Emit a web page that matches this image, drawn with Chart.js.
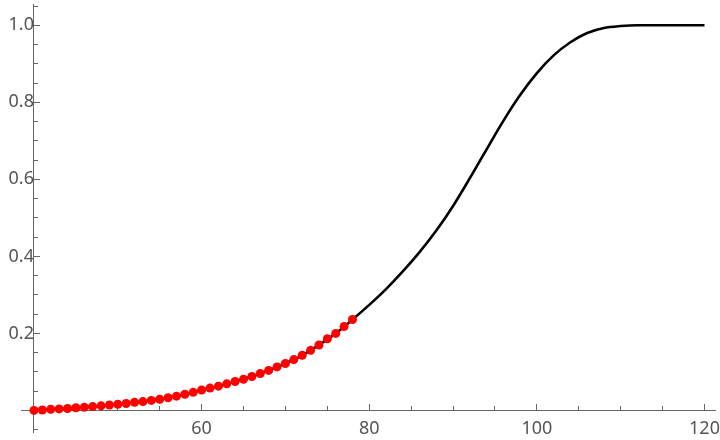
<!DOCTYPE html>
<html>
<head>
<meta charset="utf-8">
<script src="https://cdn.jsdelivr.net/npm/chart.js@4/dist/chart.umd.min.js"></script>
<style>
  html, body { margin: 0; padding: 0; background: #fff; }
  #wrap { width: 720px; height: 440px; position: relative; }
</style>
</head>
<body>
<div id="wrap"><canvas id="grafico"></canvas></div>
<script>
// pontos vermelhos (dados observados)
const pontosX = [40, 41, 42, 43, 44, 45, 46, 47, 48, 49, 50, 51, 52, 53, 54, 55, 56, 57, 58, 59,
  60, 61, 62, 63, 64, 65, 66, 67, 68, 69, 70, 71, 72, 73, 74, 75, 76, 77, 78];
const pontosY = [0.000, 0.001, 0.003, 0.004, 0.005, 0.007, 0.008, 0.010, 0.012, 0.014,
  0.016, 0.018, 0.021, 0.023, 0.026, 0.029, 0.033, 0.037, 0.042, 0.047,
  0.053, 0.058, 0.063, 0.069, 0.075, 0.081, 0.088, 0.096, 0.104, 0.113,
  0.122, 0.132, 0.143, 0.156, 0.170, 0.186, 0.200, 0.218, 0.236];

// curva preta
const curvaX = [40, 42, 44, 46, 48, 50, 52, 54, 56, 58, 60, 62, 64, 66, 68, 70, 72, 74, 76, 78,
  80, 82, 84, 86, 88, 90, 92, 94, 96, 98, 100, 102, 104, 106, 108, 110, 112, 114, 116, 118, 120];
const curvaY = [0.000, 0.003, 0.005, 0.008, 0.012, 0.016, 0.021, 0.026, 0.033, 0.042,
  0.053, 0.063, 0.075, 0.088, 0.104, 0.122, 0.143, 0.170, 0.200, 0.236,
  0.274, 0.315, 0.361, 0.411, 0.467, 0.531, 0.603, 0.678, 0.752, 0.819,
  0.876, 0.922, 0.956, 0.980, 0.993, 0.998, 1.000, 1.000, 1.000, 1.000, 1.000];

// ticks
const ticksXMaior = 20;
const ticksXMenor = 5;
const ticksYMaior = 0.2;
const ticksYMenor = 0.05;

const corEixo = '#666666';
const corTexto = '#555555';
const fonte = { family: 'Noto Sans', size: 18 };

const xMin = 38.45, xMax = 121.31;
const yMin = -0.056, yMax = 1.054;

// zera o espaço que a escala reserva, o eixo fica dentro da área
const semEspaco = (s, dir) => {
  s[dir] = 0;
  s.paddingLeft = 0;
  s.paddingRight = 0;
  s.paddingTop = 0;
  s.paddingBottom = 0;
};

const eixoX = (step, tl, mostrar) => ({
  type: 'linear',
  axis: 'x',
  position: { y: 0 },
  min: xMin,
  max: xMax,
  afterFit: (s) => semEspaco(s, 'height'),
  border: { display: mostrar, color: corEixo, width: 1 },
  grid: { drawOnChartArea: false, drawTicks: true, tickLength: tl, tickColor: corEixo, tickWidth: 1 },
  ticks: {
    display: mostrar,
    stepSize: step,
    includeBounds: false,
    autoSkip: false,
    maxRotation: 0,
    padding: 15,
    color: corTexto,
    font: fonte,
    callback: (v) => (v === 40 ? '' : String(v))
  }
});

const eixoY = (step, tl, mostrar) => ({
  type: 'linear',
  axis: 'y',
  position: { x: 40 },
  min: yMin,
  max: yMax,
  afterFit: (s) => semEspaco(s, 'width'),
  border: { display: mostrar, color: corEixo, width: 1 },
  grid: { drawOnChartArea: false, drawTicks: true, tickLength: tl, tickColor: corEixo, tickWidth: 1 },
  ticks: {
    display: mostrar,
    stepSize: step,
    includeBounds: false,
    autoSkip: false,
    padding: 8,
    color: corTexto,
    font: fonte,
    callback: (v) => (Math.abs(v) < 1e-9 ? '' : v.toFixed(1))
  }
});

new Chart(document.getElementById('grafico'), {
  type: 'scatter',
  data: {
    datasets: [
      {
        label: 'pontos',
        order: 0,
        data: pontosX.map((x, i) => ({ x, y: pontosY[i] })),
        backgroundColor: '#ff0000',
        borderWidth: 0,
        pointRadius: 4.5,
        pointHoverRadius: 4.5
      },
      {
        label: 'curva',
        order: 1,
        data: curvaX.map((x, i) => ({ x, y: curvaY[i] })),
        showLine: true,
        borderColor: '#000000',
        borderWidth: 2.6,
        pointRadius: 0,
        cubicInterpolationMode: 'monotone'
      }
    ]
  },
  options: {
    responsive: true,
    maintainAspectRatio: false,
    animation: false,
    layout: { padding: { left: 21, right: 0, top: 2, bottom: 8 } },
    plugins: { legend: { display: false }, tooltip: { enabled: false } },
    scales: {
      x: eixoX(ticksXMaior, -7, true),
      x2: eixoX(ticksXMenor, -4, false),
      y: eixoY(ticksYMaior, -7, true),
      y2: eixoY(ticksYMenor, -4, false)
    }
  }
});
</script>
</body>
</html>
